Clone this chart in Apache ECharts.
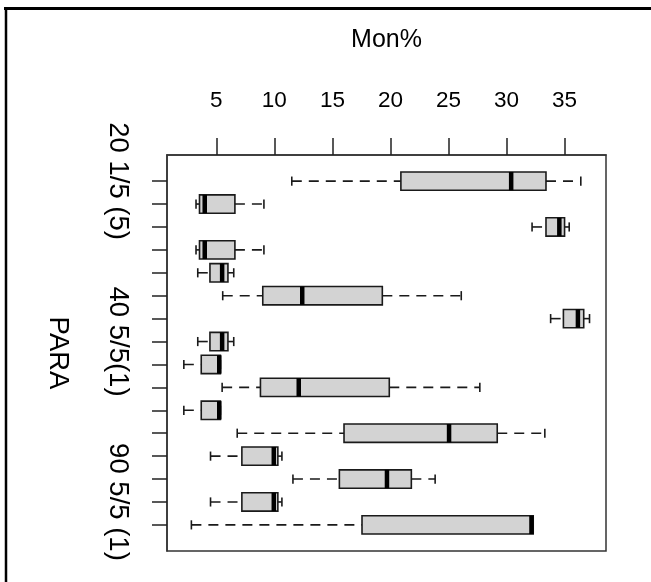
<!DOCTYPE html>
<html>
<head>
<meta charset="utf-8">
<script src="https://cdn.jsdelivr.net/npm/echarts@6/dist/echarts.min.js"></script>
<style>
  html, body { margin: 0; padding: 0; background: #fff; }
  #chart { width: 651px; height: 582px; }
</style>
</head>
<body>
<div id="chart"></div>
<script>
// group labels (only every 7th one is printed, as in the original R plot)
const groupLabels = [
  '20 1/5 (5)', '', '', '', '', '', '',
  '40 5/5(1)', '', '', '', '', '', '',
  '90 5/5 (1)', ''
];
const groupPos = [1, 2, 3, 4, 5, 6, 7, 8, 9, 10, 11, 12, 13, 14, 15, 16];

// five-number summaries per group (Mon%)
const lowWhisker = [11.5, 3.25, 32.2, 3.25, 3.4, 5.55, 33.8, 3.4, 2.2, 5.5, 2.2, 6.8, 4.5, 11.6, 4.5, 2.85];
const q1Values   = [20.9, 3.55, 33.4, 3.55, 4.45, 9.0, 34.9, 4.45, 3.7, 8.8, 3.7, 16.0, 7.2, 15.6, 7.2, 17.55];
const medValues  = [30.4, 4.0, 34.55, 4.0, 5.5, 12.4, 36.15, 5.5, 5.25, 12.1, 5.25, 25.05, 9.95, 19.7, 9.95, 32.15];
const q3Values   = [33.4, 6.6, 35.0, 6.6, 6.0, 19.3, 36.65, 6.0, 5.35, 19.9, 5.35, 29.2, 10.3, 21.8, 10.3, 32.3];
const highWhisker = [36.4, 9.1, 35.4, 9.1, 6.5, 26.1, 37.15, 6.5, 5.35, 27.7, 5.35, 33.3, 10.65, 23.85, 10.65, 32.3];

const xTicks = [5, 10, 15, 20, 25, 30, 35];
const yLabelPos = [1, 8, 15];

const boxData = groupPos.map((p, i) => [
  p, lowWhisker[i], q1Values[i], medValues[i], q3Values[i], highWhisker[i]
]);

const chart = echarts.init(document.getElementById('chart'));

const lineColor = '#1a1a1a';

function renderBox(params, api) {
  const pos = api.value(0);
  const lo = api.coord([api.value(1), pos]);
  const q1 = api.coord([api.value(2), pos]);
  const md = api.coord([api.value(3), pos]);
  const q3 = api.coord([api.value(4), pos]);
  const hi = api.coord([api.value(5), pos]);
  const h = api.size([0, 0.8])[1];
  const cap = h / 2;
  const y = lo[1];
  const dash = { stroke: lineColor, lineWidth: 1.6, lineDash: [10, 7] };
  const solid = { stroke: lineColor, lineWidth: 1.6 };
  return {
    type: 'group',
    children: [
      { type: 'line', shape: { x1: lo[0], y1: y, x2: q1[0], y2: y }, style: dash },
      { type: 'line', shape: { x1: q3[0], y1: y, x2: hi[0], y2: y }, style: dash },
      { type: 'line', shape: { x1: lo[0], y1: y - cap / 2, x2: lo[0], y2: y + cap / 2 }, style: solid },
      { type: 'line', shape: { x1: hi[0], y1: y - cap / 2, x2: hi[0], y2: y + cap / 2 }, style: solid },
      {
        type: 'rect',
        shape: { x: q1[0], y: y - h / 2, width: q3[0] - q1[0], height: h },
        style: { fill: '#d3d3d3', stroke: lineColor, lineWidth: 1.6 }
      },
      {
        type: 'line',
        shape: { x1: md[0], y1: y - h / 2, x2: md[0], y2: y + h / 2 },
        style: { stroke: '#000', lineWidth: 4.5 }
      }
    ]
  };
}

const option = {
  backgroundColor: '#fff',
  animation: false,
  textStyle: { fontFamily: 'Liberation Sans, Arial, sans-serif' },
  grid: {
    left: 167, top: 155, right: 45, bottom: 31,
    show: true, borderColor: '#333', borderWidth: 1.5
  },
  xAxis: {
    type: 'value',
    position: 'top',
    min: 0.75,
    max: 38.57,
    name: 'Mon%',
    nameLocation: 'middle',
    nameGap: 102,
    nameTextStyle: { color: '#000', fontSize: 25 },
    axisLine: { show: true, onZero: false, lineStyle: { color: '#333', width: 1.5 } },
    axisTick: { show: true, length: 17, customValues: xTicks, lineStyle: { color: '#222', width: 1.5 } },
    axisLabel: { color: '#000', fontSize: 22.5, margin: 43, customValues: xTicks },
    splitLine: { show: false }
  },
  yAxis: {
    type: 'value',
    inverse: true,
    min: -0.14,
    max: 17.14,
    name: 'PARA',
    nameLocation: 'middle',
    nameGap: 95,
    nameRotate: -90,
    nameTextStyle: { color: '#000', fontSize: 27.5 },
    axisLine: { show: true, onZero: false, lineStyle: { color: '#333', width: 1.5 } },
    axisTick: { show: true, length: 15, customValues: groupPos, lineStyle: { color: '#222', width: 1.5 } },
    axisLabel: {
      color: '#000', fontSize: 27.5, margin: 35, rotate: -90,
      customValues: yLabelPos,
      formatter: (v) => groupLabels[Math.round(v) - 1]
    },
    splitLine: { show: false }
  },
  graphic: [
    { type: 'line', shape: { x1: 4, y1: 8.5, x2: 651, y2: 8.5 }, style: { stroke: '#000', lineWidth: 3 } },
    { type: 'line', shape: { x1: 6, y1: 7, x2: 6, y2: 582 }, style: { stroke: '#000', lineWidth: 2.5 } }
  ],
  series: [{
    type: 'custom',
    renderItem: renderBox,
    encode: { x: [1, 2, 3, 4, 5], y: 0 },
    data: boxData
  }]
};

chart.setOption(option);
</script>
</body>
</html>
